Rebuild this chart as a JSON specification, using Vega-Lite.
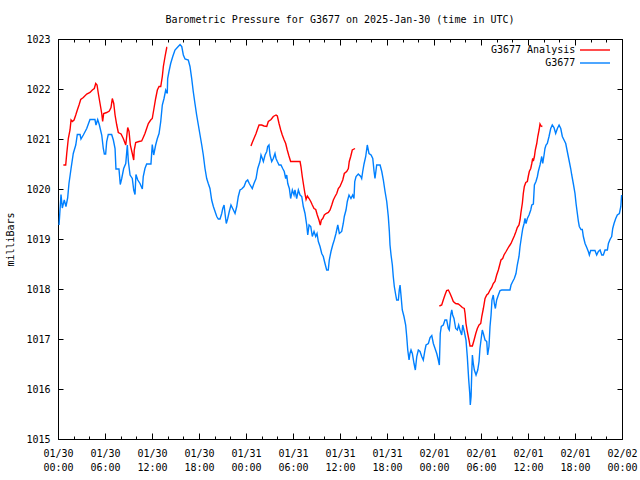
{
  "$schema": "https://vega.github.io/schema/vega-lite/v6.json",
  "width": 564,
  "height": 400,
  "autosize": "none",
  "padding": {"left": 58, "top": 39, "right": 18, "bottom": 41},
  "background": "white",
  "title": {"text": "Barometric Pressure for G3677 on 2025-Jan-30 (time in UTC)", "font": "DejaVu Sans Mono", "fontSize": 10, "fontWeight": "normal", "color": "black", "anchor": "middle", "offset": 9},
  "config": {
    "view": {"stroke": "black", "strokeWidth": 1},
    "axis": {"labelFont": "DejaVu Sans Mono", "labelFontSize": 10, "labelColor": "black", "titleFont": "DejaVu Sans Mono", "titleFontSize": 10, "titleFontWeight": "normal", "titleColor": "black", "tickColor": "black", "grid": false, "domain": false}
  },
  "data": {
    "format": {"parse": {"t": "utc:'%Y-%m-%d %H:%M'"}},
    "values": [
      {"s":"G3677","g":0,"t":"2025-01-30 00:08","p":1019.28},
      {"s":"G3677","g":0,"t":"2025-01-30 00:23","p":1019.89},
      {"s":"G3677","g":0,"t":"2025-01-30 00:33","p":1019.62},
      {"s":"G3677","g":0,"t":"2025-01-30 00:48","p":1019.78},
      {"s":"G3677","g":0,"t":"2025-01-30 01:01","p":1019.65},
      {"s":"G3677","g":0,"t":"2025-01-30 01:14","p":1019.82},
      {"s":"G3677","g":0,"t":"2025-01-30 01:24","p":1020.11},
      {"s":"G3677","g":0,"t":"2025-01-30 01:40","p":1020.41},
      {"s":"G3677","g":0,"t":"2025-01-30 01:57","p":1020.71},
      {"s":"G3677","g":0,"t":"2025-01-30 02:16","p":1020.88},
      {"s":"G3677","g":0,"t":"2025-01-30 02:28","p":1021.09},
      {"s":"G3677","g":0,"t":"2025-01-30 02:49","p":1021.09},
      {"s":"G3677","g":0,"t":"2025-01-30 02:56","p":1021.00},
      {"s":"G3677","g":0,"t":"2025-01-30 03:14","p":1021.08},
      {"s":"G3677","g":0,"t":"2025-01-30 03:40","p":1021.21},
      {"s":"G3677","g":0,"t":"2025-01-30 04:05","p":1021.39},
      {"s":"G3677","g":0,"t":"2025-01-30 04:43","p":1021.39},
      {"s":"G3677","g":0,"t":"2025-01-30 04:51","p":1021.28},
      {"s":"G3677","g":0,"t":"2025-01-30 05:04","p":1021.39},
      {"s":"G3677","g":0,"t":"2025-01-30 05:16","p":1021.29},
      {"s":"G3677","g":0,"t":"2025-01-30 05:35","p":1021.08},
      {"s":"G3677","g":0,"t":"2025-01-30 05:47","p":1020.81},
      {"s":"G3677","g":0,"t":"2025-01-30 05:55","p":1020.70},
      {"s":"G3677","g":0,"t":"2025-01-30 06:05","p":1020.70},
      {"s":"G3677","g":0,"t":"2025-01-30 06:13","p":1020.95},
      {"s":"G3677","g":0,"t":"2025-01-30 06:25","p":1021.09},
      {"s":"G3677","g":0,"t":"2025-01-30 06:51","p":1021.09},
      {"s":"G3677","g":0,"t":"2025-01-30 07:04","p":1020.98},
      {"s":"G3677","g":0,"t":"2025-01-30 07:17","p":1020.81},
      {"s":"G3677","g":0,"t":"2025-01-30 07:24","p":1020.40},
      {"s":"G3677","g":0,"t":"2025-01-30 07:47","p":1020.40},
      {"s":"G3677","g":0,"t":"2025-01-30 07:57","p":1020.09},
      {"s":"G3677","g":0,"t":"2025-01-30 08:08","p":1020.21},
      {"s":"G3677","g":0,"t":"2025-01-30 08:23","p":1020.41},
      {"s":"G3677","g":0,"t":"2025-01-30 08:39","p":1020.51},
      {"s":"G3677","g":0,"t":"2025-01-30 08:51","p":1020.88},
      {"s":"G3677","g":0,"t":"2025-01-30 08:59","p":1020.55},
      {"s":"G3677","g":0,"t":"2025-01-30 09:12","p":1020.28},
      {"s":"G3677","g":0,"t":"2025-01-30 09:29","p":1020.21},
      {"s":"G3677","g":0,"t":"2025-01-30 09:40","p":1019.98},
      {"s":"G3677","g":0,"t":"2025-01-30 09:50","p":1019.89},
      {"s":"G3677","g":0,"t":"2025-01-30 09:57","p":1020.29},
      {"s":"G3677","g":0,"t":"2025-01-30 10:11","p":1020.18},
      {"s":"G3677","g":0,"t":"2025-01-30 10:28","p":1020.11},
      {"s":"G3677","g":0,"t":"2025-01-30 10:46","p":1020.00},
      {"s":"G3677","g":0,"t":"2025-01-30 10:53","p":1020.25},
      {"s":"G3677","g":0,"t":"2025-01-30 11:06","p":1020.41},
      {"s":"G3677","g":0,"t":"2025-01-30 11:19","p":1020.50},
      {"s":"G3677","g":0,"t":"2025-01-30 11:52","p":1020.50},
      {"s":"G3677","g":0,"t":"2025-01-30 12:02","p":1020.89},
      {"s":"G3677","g":0,"t":"2025-01-30 12:13","p":1020.68},
      {"s":"G3677","g":0,"t":"2025-01-30 12:28","p":1020.88},
      {"s":"G3677","g":0,"t":"2025-01-30 12:41","p":1021.01},
      {"s":"G3677","g":0,"t":"2025-01-30 12:54","p":1021.11},
      {"s":"G3677","g":0,"t":"2025-01-30 13:07","p":1021.35},
      {"s":"G3677","g":0,"t":"2025-01-30 13:19","p":1021.68},
      {"s":"G3677","g":0,"t":"2025-01-30 13:32","p":1021.81},
      {"s":"G3677","g":0,"t":"2025-01-30 13:45","p":1021.98},
      {"s":"G3677","g":0,"t":"2025-01-30 13:57","p":1021.91},
      {"s":"G3677","g":0,"t":"2025-01-30 14:00","p":1022.21},
      {"s":"G3677","g":0,"t":"2025-01-30 14:10","p":1022.35},
      {"s":"G3677","g":0,"t":"2025-01-30 14:23","p":1022.51},
      {"s":"G3677","g":0,"t":"2025-01-30 14:39","p":1022.65},
      {"s":"G3677","g":0,"t":"2025-01-30 14:56","p":1022.78},
      {"s":"G3677","g":0,"t":"2025-01-30 15:14","p":1022.83},
      {"s":"G3677","g":0,"t":"2025-01-30 15:35","p":1022.89},
      {"s":"G3677","g":0,"t":"2025-01-30 15:48","p":1022.85},
      {"s":"G3677","g":0,"t":"2025-01-30 16:00","p":1022.68},
      {"s":"G3677","g":0,"t":"2025-01-30 16:13","p":1022.60},
      {"s":"G3677","g":0,"t":"2025-01-30 16:38","p":1022.58},
      {"s":"G3677","g":0,"t":"2025-01-30 16:51","p":1022.45},
      {"s":"G3677","g":0,"t":"2025-01-30 17:04","p":1022.21},
      {"s":"G3677","g":0,"t":"2025-01-30 17:16","p":1021.95},
      {"s":"G3677","g":0,"t":"2025-01-30 17:29","p":1021.71},
      {"s":"G3677","g":0,"t":"2025-01-30 17:42","p":1021.48},
      {"s":"G3677","g":0,"t":"2025-01-30 17:55","p":1021.28},
      {"s":"G3677","g":0,"t":"2025-01-30 18:08","p":1021.08},
      {"s":"G3677","g":0,"t":"2025-01-30 18:21","p":1020.88},
      {"s":"G3677","g":0,"t":"2025-01-30 18:33","p":1020.68},
      {"s":"G3677","g":0,"t":"2025-01-30 18:46","p":1020.41},
      {"s":"G3677","g":0,"t":"2025-01-30 18:59","p":1020.21},
      {"s":"G3677","g":0,"t":"2025-01-30 19:11","p":1020.11},
      {"s":"G3677","g":0,"t":"2025-01-30 19:24","p":1020.01},
      {"s":"G3677","g":0,"t":"2025-01-30 19:37","p":1019.78},
      {"s":"G3677","g":0,"t":"2025-01-30 19:50","p":1019.65},
      {"s":"G3677","g":0,"t":"2025-01-30 20:03","p":1019.55},
      {"s":"G3677","g":0,"t":"2025-01-30 20:16","p":1019.45},
      {"s":"G3677","g":0,"t":"2025-01-30 20:28","p":1019.40},
      {"s":"G3677","g":0,"t":"2025-01-30 20:41","p":1019.40},
      {"s":"G3677","g":0,"t":"2025-01-30 20:54","p":1019.51},
      {"s":"G3677","g":0,"t":"2025-01-30 21:02","p":1019.61},
      {"s":"G3677","g":0,"t":"2025-01-30 21:12","p":1019.68},
      {"s":"G3677","g":0,"t":"2025-01-30 21:22","p":1019.45},
      {"s":"G3677","g":0,"t":"2025-01-30 21:29","p":1019.31},
      {"s":"G3677","g":0,"t":"2025-01-30 21:40","p":1019.41},
      {"s":"G3677","g":0,"t":"2025-01-30 21:52","p":1019.55},
      {"s":"G3677","g":0,"t":"2025-01-30 22:05","p":1019.68},
      {"s":"G3677","g":0,"t":"2025-01-30 22:18","p":1019.61},
      {"s":"G3677","g":0,"t":"2025-01-30 22:36","p":1019.51},
      {"s":"G3677","g":0,"t":"2025-01-30 22:49","p":1019.65},
      {"s":"G3677","g":0,"t":"2025-01-30 23:01","p":1019.85},
      {"s":"G3677","g":0,"t":"2025-01-30 23:14","p":1019.98},
      {"s":"G3677","g":0,"t":"2025-01-30 23:27","p":1020.00},
      {"s":"G3677","g":0,"t":"2025-01-30 23:45","p":1020.05},
      {"s":"G3677","g":0,"t":"2025-01-31 00:00","p":1020.15},
      {"s":"G3677","g":0,"t":"2025-01-31 00:13","p":1020.18},
      {"s":"G3677","g":0,"t":"2025-01-31 00:25","p":1020.11},
      {"s":"G3677","g":0,"t":"2025-01-31 00:48","p":1020.01},
      {"s":"G3677","g":0,"t":"2025-01-31 01:01","p":1020.11},
      {"s":"G3677","g":0,"t":"2025-01-31 01:17","p":1020.21},
      {"s":"G3677","g":0,"t":"2025-01-31 01:30","p":1020.41},
      {"s":"G3677","g":0,"t":"2025-01-31 01:47","p":1020.55},
      {"s":"G3677","g":0,"t":"2025-01-31 01:55","p":1020.68},
      {"s":"G3677","g":0,"t":"2025-01-31 02:05","p":1020.61},
      {"s":"G3677","g":0,"t":"2025-01-31 02:13","p":1020.55},
      {"s":"G3677","g":0,"t":"2025-01-31 02:26","p":1020.68},
      {"s":"G3677","g":0,"t":"2025-01-31 02:39","p":1020.75},
      {"s":"G3677","g":0,"t":"2025-01-31 02:46","p":1020.85},
      {"s":"G3677","g":0,"t":"2025-01-31 02:56","p":1020.88},
      {"s":"G3677","g":0,"t":"2025-01-31 03:04","p":1020.68},
      {"s":"G3677","g":0,"t":"2025-01-31 03:17","p":1020.55},
      {"s":"G3677","g":0,"t":"2025-01-31 03:29","p":1020.61},
      {"s":"G3677","g":0,"t":"2025-01-31 03:42","p":1020.71},
      {"s":"G3677","g":0,"t":"2025-01-31 03:50","p":1020.61},
      {"s":"G3677","g":0,"t":"2025-01-31 04:00","p":1020.55},
      {"s":"G3677","g":0,"t":"2025-01-31 04:13","p":1020.48},
      {"s":"G3677","g":0,"t":"2025-01-31 04:28","p":1020.48},
      {"s":"G3677","g":0,"t":"2025-01-31 04:41","p":1020.41},
      {"s":"G3677","g":0,"t":"2025-01-31 04:53","p":1020.35},
      {"s":"G3677","g":0,"t":"2025-01-31 05:04","p":1020.21},
      {"s":"G3677","g":0,"t":"2025-01-31 05:12","p":1020.28},
      {"s":"G3677","g":0,"t":"2025-01-31 05:20","p":1020.11},
      {"s":"G3677","g":0,"t":"2025-01-31 05:32","p":1020.01},
      {"s":"G3677","g":0,"t":"2025-01-31 05:42","p":1019.81},
      {"s":"G3677","g":0,"t":"2025-01-31 05:55","p":1019.98},
      {"s":"G3677","g":0,"t":"2025-01-31 06:08","p":1019.88},
      {"s":"G3677","g":0,"t":"2025-01-31 06:15","p":1019.98},
      {"s":"G3677","g":0,"t":"2025-01-31 06:28","p":1019.81},
      {"s":"G3677","g":0,"t":"2025-01-31 06:41","p":1019.98},
      {"s":"G3677","g":0,"t":"2025-01-31 06:54","p":1019.88},
      {"s":"G3677","g":0,"t":"2025-01-31 07:07","p":1019.85},
      {"s":"G3677","g":0,"t":"2025-01-31 07:19","p":1019.65},
      {"s":"G3677","g":0,"t":"2025-01-31 07:32","p":1019.51},
      {"s":"G3677","g":0,"t":"2025-01-31 07:45","p":1019.28},
      {"s":"G3677","g":0,"t":"2025-01-31 07:53","p":1019.08},
      {"s":"G3677","g":0,"t":"2025-01-31 08:03","p":1019.28},
      {"s":"G3677","g":0,"t":"2025-01-31 08:16","p":1019.25},
      {"s":"G3677","g":0,"t":"2025-01-31 08:28","p":1019.05},
      {"s":"G3677","g":0,"t":"2025-01-31 08:41","p":1019.15},
      {"s":"G3677","g":0,"t":"2025-01-31 08:54","p":1019.05},
      {"s":"G3677","g":0,"t":"2025-01-31 09:04","p":1019.11},
      {"s":"G3677","g":0,"t":"2025-01-31 09:14","p":1018.95},
      {"s":"G3677","g":0,"t":"2025-01-31 09:27","p":1018.85},
      {"s":"G3677","g":0,"t":"2025-01-31 09:40","p":1018.71},
      {"s":"G3677","g":0,"t":"2025-01-31 09:52","p":1018.65},
      {"s":"G3677","g":0,"t":"2025-01-31 10:05","p":1018.51},
      {"s":"G3677","g":0,"t":"2025-01-31 10:18","p":1018.38},
      {"s":"G3677","g":0,"t":"2025-01-31 10:30","p":1018.38},
      {"s":"G3677","g":0,"t":"2025-01-31 10:38","p":1018.58},
      {"s":"G3677","g":0,"t":"2025-01-31 10:51","p":1018.75},
      {"s":"G3677","g":0,"t":"2025-01-31 11:04","p":1018.88},
      {"s":"G3677","g":0,"t":"2025-01-31 11:16","p":1018.98},
      {"s":"G3677","g":0,"t":"2025-01-31 11:29","p":1019.11},
      {"s":"G3677","g":0,"t":"2025-01-31 11:43","p":1019.28},
      {"s":"G3677","g":0,"t":"2025-01-31 11:55","p":1019.11},
      {"s":"G3677","g":0,"t":"2025-01-31 12:13","p":1019.15},
      {"s":"G3677","g":0,"t":"2025-01-31 12:25","p":1019.31},
      {"s":"G3677","g":0,"t":"2025-01-31 12:33","p":1019.45},
      {"s":"G3677","g":0,"t":"2025-01-31 12:46","p":1019.58},
      {"s":"G3677","g":0,"t":"2025-01-31 12:56","p":1019.75},
      {"s":"G3677","g":0,"t":"2025-01-31 13:09","p":1019.88},
      {"s":"G3677","g":0,"t":"2025-01-31 13:24","p":1019.81},
      {"s":"G3677","g":0,"t":"2025-01-31 13:37","p":1019.88},
      {"s":"G3677","g":0,"t":"2025-01-31 13:47","p":1019.81},
      {"s":"G3677","g":0,"t":"2025-01-31 13:53","p":1020.15},
      {"s":"G3677","g":0,"t":"2025-01-31 14:03","p":1020.25},
      {"s":"G3677","g":0,"t":"2025-01-31 14:20","p":1020.30},
      {"s":"G3677","g":0,"t":"2025-01-31 14:39","p":1020.25},
      {"s":"G3677","g":0,"t":"2025-01-31 14:46","p":1020.21},
      {"s":"G3677","g":0,"t":"2025-01-31 14:54","p":1020.35},
      {"s":"G3677","g":0,"t":"2025-01-31 15:04","p":1020.50},
      {"s":"G3677","g":0,"t":"2025-01-31 15:17","p":1020.65},
      {"s":"G3677","g":0,"t":"2025-01-31 15:29","p":1020.88},
      {"s":"G3677","g":0,"t":"2025-01-31 15:42","p":1020.71},
      {"s":"G3677","g":0,"t":"2025-01-31 15:58","p":1020.68},
      {"s":"G3677","g":0,"t":"2025-01-31 16:11","p":1020.61},
      {"s":"G3677","g":0,"t":"2025-01-31 16:21","p":1020.35},
      {"s":"G3677","g":0,"t":"2025-01-31 16:28","p":1020.21},
      {"s":"G3677","g":0,"t":"2025-01-31 16:41","p":1020.48},
      {"s":"G3677","g":0,"t":"2025-01-31 17:07","p":1020.48},
      {"s":"G3677","g":0,"t":"2025-01-31 17:20","p":1020.35},
      {"s":"G3677","g":0,"t":"2025-01-31 17:32","p":1020.18},
      {"s":"G3677","g":0,"t":"2025-01-31 17:45","p":1019.95},
      {"s":"G3677","g":0,"t":"2025-01-31 17:58","p":1019.75},
      {"s":"G3677","g":0,"t":"2025-01-31 18:10","p":1019.45},
      {"s":"G3677","g":0,"t":"2025-01-31 18:18","p":1019.15},
      {"s":"G3677","g":0,"t":"2025-01-31 18:23","p":1018.88},
      {"s":"G3677","g":0,"t":"2025-01-31 18:31","p":1018.68},
      {"s":"G3677","g":0,"t":"2025-01-31 18:41","p":1018.48},
      {"s":"G3677","g":0,"t":"2025-01-31 18:48","p":1018.25},
      {"s":"G3677","g":0,"t":"2025-01-31 18:56","p":1018.05},
      {"s":"G3677","g":0,"t":"2025-01-31 19:07","p":1017.88},
      {"s":"G3677","g":0,"t":"2025-01-31 19:14","p":1017.78},
      {"s":"G3677","g":0,"t":"2025-01-31 19:27","p":1017.78},
      {"s":"G3677","g":0,"t":"2025-01-31 19:34","p":1017.98},
      {"s":"G3677","g":0,"t":"2025-01-31 19:40","p":1018.08},
      {"s":"G3677","g":0,"t":"2025-01-31 19:47","p":1017.88},
      {"s":"G3677","g":0,"t":"2025-01-31 19:57","p":1017.58},
      {"s":"G3677","g":0,"t":"2025-01-31 20:10","p":1017.45},
      {"s":"G3677","g":0,"t":"2025-01-31 20:23","p":1017.28},
      {"s":"G3677","g":0,"t":"2025-01-31 20:31","p":1017.05},
      {"s":"G3677","g":0,"t":"2025-01-31 20:39","p":1016.78},
      {"s":"G3677","g":0,"t":"2025-01-31 20:49","p":1016.58},
      {"s":"G3677","g":0,"t":"2025-01-31 20:56","p":1016.71},
      {"s":"G3677","g":0,"t":"2025-01-31 21:04","p":1016.78},
      {"s":"G3677","g":0,"t":"2025-01-31 21:14","p":1016.71},
      {"s":"G3677","g":0,"t":"2025-01-31 21:27","p":1016.51},
      {"s":"G3677","g":0,"t":"2025-01-31 21:37","p":1016.38},
      {"s":"G3677","g":0,"t":"2025-01-31 21:48","p":1016.65},
      {"s":"G3677","g":0,"t":"2025-01-31 22:00","p":1016.78},
      {"s":"G3677","g":0,"t":"2025-01-31 22:13","p":1016.75},
      {"s":"G3677","g":0,"t":"2025-01-31 22:26","p":1016.65},
      {"s":"G3677","g":0,"t":"2025-01-31 22:38","p":1016.58},
      {"s":"G3677","g":0,"t":"2025-01-31 22:51","p":1016.78},
      {"s":"G3677","g":0,"t":"2025-01-31 22:59","p":1016.88},
      {"s":"G3677","g":0,"t":"2025-01-31 23:17","p":1016.91},
      {"s":"G3677","g":0,"t":"2025-01-31 23:30","p":1017.03},
      {"s":"G3677","g":0,"t":"2025-01-31 23:43","p":1017.07},
      {"s":"G3677","g":0,"t":"2025-01-31 23:55","p":1016.91},
      {"s":"G3677","g":0,"t":"2025-02-01 00:08","p":1016.81},
      {"s":"G3677","g":0,"t":"2025-02-01 00:21","p":1016.71},
      {"s":"G3677","g":0,"t":"2025-02-01 00:33","p":1016.58},
      {"s":"G3677","g":0,"t":"2025-02-01 00:41","p":1016.48},
      {"s":"G3677","g":0,"t":"2025-02-01 00:48","p":1017.11},
      {"s":"G3677","g":0,"t":"2025-02-01 00:56","p":1017.25},
      {"s":"G3677","g":0,"t":"2025-02-01 01:11","p":1017.28},
      {"s":"G3677","g":0,"t":"2025-02-01 01:24","p":1017.38},
      {"s":"G3677","g":0,"t":"2025-02-01 01:37","p":1017.38},
      {"s":"G3677","g":0,"t":"2025-02-01 01:50","p":1017.21},
      {"s":"G3677","g":0,"t":"2025-02-01 01:57","p":1017.18},
      {"s":"G3677","g":0,"t":"2025-02-01 02:08","p":1017.48},
      {"s":"G3677","g":0,"t":"2025-02-01 02:16","p":1017.58},
      {"s":"G3677","g":0,"t":"2025-02-01 02:23","p":1017.48},
      {"s":"G3677","g":0,"t":"2025-02-01 02:33","p":1017.41},
      {"s":"G3677","g":0,"t":"2025-02-01 02:46","p":1017.21},
      {"s":"G3677","g":0,"t":"2025-02-01 02:59","p":1017.18},
      {"s":"G3677","g":0,"t":"2025-02-01 03:09","p":1017.28},
      {"s":"G3677","g":0,"t":"2025-02-01 03:19","p":1017.18},
      {"s":"G3677","g":0,"t":"2025-02-01 03:32","p":1017.08},
      {"s":"G3677","g":0,"t":"2025-02-01 03:40","p":1017.28},
      {"s":"G3677","g":0,"t":"2025-02-01 03:52","p":1017.15},
      {"s":"G3677","g":0,"t":"2025-02-01 04:05","p":1016.98},
      {"s":"G3677","g":0,"t":"2025-02-01 04:15","p":1016.65},
      {"s":"G3677","g":0,"t":"2025-02-01 04:26","p":1016.18},
      {"s":"G3677","g":0,"t":"2025-02-01 04:34","p":1015.91},
      {"s":"G3677","g":0,"t":"2025-02-01 04:38","p":1015.68},
      {"s":"G3677","g":0,"t":"2025-02-01 04:44","p":1015.85},
      {"s":"G3677","g":0,"t":"2025-02-01 04:49","p":1016.31},
      {"s":"G3677","g":0,"t":"2025-02-01 04:54","p":1016.68},
      {"s":"G3677","g":0,"t":"2025-02-01 05:01","p":1016.51},
      {"s":"G3677","g":0,"t":"2025-02-01 05:09","p":1016.38},
      {"s":"G3677","g":0,"t":"2025-02-01 05:22","p":1016.28},
      {"s":"G3677","g":0,"t":"2025-02-01 05:35","p":1016.38},
      {"s":"G3677","g":0,"t":"2025-02-01 05:45","p":1016.55},
      {"s":"G3677","g":0,"t":"2025-02-01 05:52","p":1016.81},
      {"s":"G3677","g":0,"t":"2025-02-01 06:00","p":1016.98},
      {"s":"G3677","g":0,"t":"2025-02-01 06:10","p":1017.18},
      {"s":"G3677","g":0,"t":"2025-02-01 06:18","p":1017.11},
      {"s":"G3677","g":0,"t":"2025-02-01 06:31","p":1016.98},
      {"s":"G3677","g":0,"t":"2025-02-01 06:44","p":1016.95},
      {"s":"G3677","g":0,"t":"2025-02-01 06:51","p":1016.68},
      {"s":"G3677","g":0,"t":"2025-02-01 07:01","p":1016.85},
      {"s":"G3677","g":0,"t":"2025-02-01 07:09","p":1017.25},
      {"s":"G3677","g":0,"t":"2025-02-01 07:17","p":1017.48},
      {"s":"G3677","g":0,"t":"2025-02-01 07:24","p":1017.78},
      {"s":"G3677","g":0,"t":"2025-02-01 07:34","p":1017.88},
      {"s":"G3677","g":0,"t":"2025-02-01 07:42","p":1017.71},
      {"s":"G3677","g":0,"t":"2025-02-01 07:50","p":1017.61},
      {"s":"G3677","g":0,"t":"2025-02-01 08:00","p":1017.78},
      {"s":"G3677","g":0,"t":"2025-02-01 08:13","p":1017.88},
      {"s":"G3677","g":0,"t":"2025-02-01 08:26","p":1017.97},
      {"s":"G3677","g":0,"t":"2025-02-01 08:39","p":1017.98},
      {"s":"G3677","g":0,"t":"2025-02-01 09:42","p":1017.98},
      {"s":"G3677","g":0,"t":"2025-02-01 09:50","p":1018.08},
      {"s":"G3677","g":0,"t":"2025-02-01 10:03","p":1018.15},
      {"s":"G3677","g":0,"t":"2025-02-01 10:15","p":1018.21},
      {"s":"G3677","g":0,"t":"2025-02-01 10:28","p":1018.31},
      {"s":"G3677","g":0,"t":"2025-02-01 10:38","p":1018.48},
      {"s":"G3677","g":0,"t":"2025-02-01 10:51","p":1018.65},
      {"s":"G3677","g":0,"t":"2025-02-01 10:59","p":1018.85},
      {"s":"G3677","g":0,"t":"2025-02-01 11:12","p":1019.08},
      {"s":"G3677","g":0,"t":"2025-02-01 11:20","p":1019.21},
      {"s":"G3677","g":0,"t":"2025-02-01 11:30","p":1019.31},
      {"s":"G3677","g":0,"t":"2025-02-01 11:37","p":1019.41},
      {"s":"G3677","g":0,"t":"2025-02-01 11:45","p":1019.31},
      {"s":"G3677","g":0,"t":"2025-02-01 11:55","p":1019.41},
      {"s":"G3677","g":0,"t":"2025-02-01 12:08","p":1019.48},
      {"s":"G3677","g":0,"t":"2025-02-01 12:21","p":1019.58},
      {"s":"G3677","g":0,"t":"2025-02-01 12:29","p":1019.68},
      {"s":"G3677","g":0,"t":"2025-02-01 12:41","p":1019.70},
      {"s":"G3677","g":0,"t":"2025-02-01 12:49","p":1020.08},
      {"s":"G3677","g":0,"t":"2025-02-01 13:01","p":1020.15},
      {"s":"G3677","g":0,"t":"2025-02-01 13:12","p":1020.25},
      {"s":"G3677","g":0,"t":"2025-02-01 13:19","p":1020.35},
      {"s":"G3677","g":0,"t":"2025-02-01 13:32","p":1020.48},
      {"s":"G3677","g":0,"t":"2025-02-01 13:40","p":1020.58},
      {"s":"G3677","g":0,"t":"2025-02-01 13:45","p":1020.65},
      {"s":"G3677","g":0,"t":"2025-02-01 13:53","p":1020.51},
      {"s":"G3677","g":0,"t":"2025-02-01 14:03","p":1020.68},
      {"s":"G3677","g":0,"t":"2025-02-01 14:10","p":1020.81},
      {"s":"G3677","g":0,"t":"2025-02-01 14:18","p":1020.88},
      {"s":"G3677","g":0,"t":"2025-02-01 14:28","p":1020.91},
      {"s":"G3677","g":0,"t":"2025-02-01 14:41","p":1021.05},
      {"s":"G3677","g":0,"t":"2025-02-01 14:54","p":1021.21},
      {"s":"G3677","g":0,"t":"2025-02-01 15:06","p":1021.28},
      {"s":"G3677","g":0,"t":"2025-02-01 15:19","p":1021.23},
      {"s":"G3677","g":0,"t":"2025-02-01 15:32","p":1021.11},
      {"s":"G3677","g":0,"t":"2025-02-01 15:45","p":1021.21},
      {"s":"G3677","g":0,"t":"2025-02-01 15:58","p":1021.28},
      {"s":"G3677","g":0,"t":"2025-02-01 16:11","p":1021.21},
      {"s":"G3677","g":0,"t":"2025-02-01 16:23","p":1021.05},
      {"s":"G3677","g":0,"t":"2025-02-01 16:36","p":1020.98},
      {"s":"G3677","g":0,"t":"2025-02-01 16:49","p":1020.91},
      {"s":"G3677","g":0,"t":"2025-02-01 17:01","p":1020.75},
      {"s":"G3677","g":0,"t":"2025-02-01 17:14","p":1020.58},
      {"s":"G3677","g":0,"t":"2025-02-01 17:27","p":1020.41},
      {"s":"G3677","g":0,"t":"2025-02-01 17:35","p":1020.28},
      {"s":"G3677","g":0,"t":"2025-02-01 17:47","p":1020.11},
      {"s":"G3677","g":0,"t":"2025-02-01 18:00","p":1019.91},
      {"s":"G3677","g":0,"t":"2025-02-01 18:08","p":1019.71},
      {"s":"G3677","g":0,"t":"2025-02-01 18:18","p":1019.51},
      {"s":"G3677","g":0,"t":"2025-02-01 18:26","p":1019.35},
      {"s":"G3677","g":0,"t":"2025-02-01 18:33","p":1019.25},
      {"s":"G3677","g":0,"t":"2025-02-01 18:46","p":1019.19},
      {"s":"G3677","g":0,"t":"2025-02-01 18:56","p":1019.19},
      {"s":"G3677","g":0,"t":"2025-02-01 19:04","p":1019.05},
      {"s":"G3677","g":0,"t":"2025-02-01 19:17","p":1018.91},
      {"s":"G3677","g":0,"t":"2025-02-01 19:30","p":1018.83},
      {"s":"G3677","g":0,"t":"2025-02-01 19:42","p":1018.75},
      {"s":"G3677","g":0,"t":"2025-02-01 19:50","p":1018.68},
      {"s":"G3677","g":0,"t":"2025-02-01 20:00","p":1018.77},
      {"s":"G3677","g":0,"t":"2025-02-01 20:33","p":1018.77},
      {"s":"G3677","g":0,"t":"2025-02-01 20:46","p":1018.68},
      {"s":"G3677","g":0,"t":"2025-02-01 20:59","p":1018.75},
      {"s":"G3677","g":0,"t":"2025-02-01 21:12","p":1018.78},
      {"s":"G3677","g":0,"t":"2025-02-01 21:25","p":1018.68},
      {"s":"G3677","g":0,"t":"2025-02-01 21:37","p":1018.68},
      {"s":"G3677","g":0,"t":"2025-02-01 21:50","p":1018.78},
      {"s":"G3677","g":0,"t":"2025-02-01 22:08","p":1018.78},
      {"s":"G3677","g":0,"t":"2025-02-01 22:16","p":1018.91},
      {"s":"G3677","g":0,"t":"2025-02-01 22:28","p":1018.99},
      {"s":"G3677","g":0,"t":"2025-02-01 22:41","p":1019.05},
      {"s":"G3677","g":0,"t":"2025-02-01 22:49","p":1019.21},
      {"s":"G3677","g":0,"t":"2025-02-01 22:59","p":1019.31},
      {"s":"G3677","g":0,"t":"2025-02-01 23:12","p":1019.41},
      {"s":"G3677","g":0,"t":"2025-02-01 23:24","p":1019.48},
      {"s":"G3677","g":0,"t":"2025-02-01 23:40","p":1019.51},
      {"s":"G3677","g":0,"t":"2025-02-01 23:51","p":1019.65},
      {"s":"G3677","g":0,"t":"2025-02-01 23:57","p":1019.88},
      {"s":"G3677 Analysis","g":1,"t":"2025-01-30 00:41","p":1020.48},
      {"s":"G3677 Analysis","g":1,"t":"2025-01-30 00:59","p":1020.48},
      {"s":"G3677 Analysis","g":1,"t":"2025-01-30 01:07","p":1020.71},
      {"s":"G3677 Analysis","g":1,"t":"2025-01-30 01:19","p":1021.01},
      {"s":"G3677 Analysis","g":1,"t":"2025-01-30 01:32","p":1021.18},
      {"s":"G3677 Analysis","g":1,"t":"2025-01-30 01:40","p":1021.38},
      {"s":"G3677 Analysis","g":1,"t":"2025-01-30 01:50","p":1021.35},
      {"s":"G3677 Analysis","g":1,"t":"2025-01-30 02:03","p":1021.38},
      {"s":"G3677 Analysis","g":1,"t":"2025-01-30 02:16","p":1021.48},
      {"s":"G3677 Analysis","g":1,"t":"2025-01-30 02:28","p":1021.58},
      {"s":"G3677 Analysis","g":1,"t":"2025-01-30 02:41","p":1021.68},
      {"s":"G3677 Analysis","g":1,"t":"2025-01-30 02:54","p":1021.79},
      {"s":"G3677 Analysis","g":1,"t":"2025-01-30 03:14","p":1021.83},
      {"s":"G3677 Analysis","g":1,"t":"2025-01-30 03:40","p":1021.90},
      {"s":"G3677 Analysis","g":1,"t":"2025-01-30 04:05","p":1021.93},
      {"s":"G3677 Analysis","g":1,"t":"2025-01-30 04:23","p":1021.98},
      {"s":"G3677 Analysis","g":1,"t":"2025-01-30 04:38","p":1022.01},
      {"s":"G3677 Analysis","g":1,"t":"2025-01-30 04:49","p":1022.11},
      {"s":"G3677 Analysis","g":1,"t":"2025-01-30 04:59","p":1022.08},
      {"s":"G3677 Analysis","g":1,"t":"2025-01-30 05:09","p":1021.91},
      {"s":"G3677 Analysis","g":1,"t":"2025-01-30 05:22","p":1021.71},
      {"s":"G3677 Analysis","g":1,"t":"2025-01-30 05:35","p":1021.51},
      {"s":"G3677 Analysis","g":1,"t":"2025-01-30 05:42","p":1021.35},
      {"s":"G3677 Analysis","g":1,"t":"2025-01-30 05:50","p":1021.51},
      {"s":"G3677 Analysis","g":1,"t":"2025-01-30 06:13","p":1021.53},
      {"s":"G3677 Analysis","g":1,"t":"2025-01-30 06:33","p":1021.56},
      {"s":"G3677 Analysis","g":1,"t":"2025-01-30 06:46","p":1021.63},
      {"s":"G3677 Analysis","g":1,"t":"2025-01-30 06:56","p":1021.81},
      {"s":"G3677 Analysis","g":1,"t":"2025-01-30 07:07","p":1021.71},
      {"s":"G3677 Analysis","g":1,"t":"2025-01-30 07:17","p":1021.48},
      {"s":"G3677 Analysis","g":1,"t":"2025-01-30 07:30","p":1021.28},
      {"s":"G3677 Analysis","g":1,"t":"2025-01-30 07:42","p":1021.13},
      {"s":"G3677 Analysis","g":1,"t":"2025-01-30 08:03","p":1021.10},
      {"s":"G3677 Analysis","g":1,"t":"2025-01-30 08:20","p":1021.01},
      {"s":"G3677 Analysis","g":1,"t":"2025-01-30 08:39","p":1020.88},
      {"s":"G3677 Analysis","g":1,"t":"2025-01-30 08:54","p":1021.23},
      {"s":"G3677 Analysis","g":1,"t":"2025-01-30 09:04","p":1021.15},
      {"s":"G3677 Analysis","g":1,"t":"2025-01-30 09:14","p":1020.88},
      {"s":"G3677 Analysis","g":1,"t":"2025-01-30 09:29","p":1020.71},
      {"s":"G3677 Analysis","g":1,"t":"2025-01-30 09:40","p":1020.58},
      {"s":"G3677 Analysis","g":1,"t":"2025-01-30 09:44","p":1020.78},
      {"s":"G3677 Analysis","g":1,"t":"2025-01-30 09:55","p":1020.93},
      {"s":"G3677 Analysis","g":1,"t":"2025-01-30 10:20","p":1020.95},
      {"s":"G3677 Analysis","g":1,"t":"2025-01-30 10:41","p":1020.96},
      {"s":"G3677 Analysis","g":1,"t":"2025-01-30 10:53","p":1021.03},
      {"s":"G3677 Analysis","g":1,"t":"2025-01-30 11:06","p":1021.11},
      {"s":"G3677 Analysis","g":1,"t":"2025-01-30 11:19","p":1021.21},
      {"s":"G3677 Analysis","g":1,"t":"2025-01-30 11:32","p":1021.31},
      {"s":"G3677 Analysis","g":1,"t":"2025-01-30 11:50","p":1021.38},
      {"s":"G3677 Analysis","g":1,"t":"2025-01-30 12:02","p":1021.41},
      {"s":"G3677 Analysis","g":1,"t":"2025-01-30 12:15","p":1021.61},
      {"s":"G3677 Analysis","g":1,"t":"2025-01-30 12:28","p":1021.81},
      {"s":"G3677 Analysis","g":1,"t":"2025-01-30 12:41","p":1021.98},
      {"s":"G3677 Analysis","g":1,"t":"2025-01-30 12:54","p":1022.05},
      {"s":"G3677 Analysis","g":1,"t":"2025-01-30 13:07","p":1022.05},
      {"s":"G3677 Analysis","g":1,"t":"2025-01-30 13:19","p":1022.25},
      {"s":"G3677 Analysis","g":1,"t":"2025-01-30 13:27","p":1022.45},
      {"s":"G3677 Analysis","g":1,"t":"2025-01-30 13:40","p":1022.65},
      {"s":"G3677 Analysis","g":1,"t":"2025-01-30 13:53","p":1022.83},
      {"s":"G3677 Analysis","g":1,"t":"2025-01-30 13:57","p":1022.83},
      {"s":"G3677 Analysis","g":2,"t":"2025-01-31 00:38","p":1020.86},
      {"s":"G3677 Analysis","g":2,"t":"2025-01-31 00:48","p":1020.93},
      {"s":"G3677 Analysis","g":2,"t":"2025-01-31 01:01","p":1021.01},
      {"s":"G3677 Analysis","g":2,"t":"2025-01-31 01:17","p":1021.11},
      {"s":"G3677 Analysis","g":2,"t":"2025-01-31 01:30","p":1021.21},
      {"s":"G3677 Analysis","g":2,"t":"2025-01-31 01:40","p":1021.28},
      {"s":"G3677 Analysis","g":2,"t":"2025-01-31 02:00","p":1021.28},
      {"s":"G3677 Analysis","g":2,"t":"2025-01-31 02:18","p":1021.26},
      {"s":"G3677 Analysis","g":2,"t":"2025-01-31 02:39","p":1021.25},
      {"s":"G3677 Analysis","g":2,"t":"2025-01-31 02:51","p":1021.35},
      {"s":"G3677 Analysis","g":2,"t":"2025-01-31 03:12","p":1021.39},
      {"s":"G3677 Analysis","g":2,"t":"2025-01-31 03:29","p":1021.45},
      {"s":"G3677 Analysis","g":2,"t":"2025-01-31 03:50","p":1021.48},
      {"s":"G3677 Analysis","g":2,"t":"2025-01-31 04:00","p":1021.46},
      {"s":"G3677 Analysis","g":2,"t":"2025-01-31 04:13","p":1021.31},
      {"s":"G3677 Analysis","g":2,"t":"2025-01-31 04:26","p":1021.18},
      {"s":"G3677 Analysis","g":2,"t":"2025-01-31 04:38","p":1021.08},
      {"s":"G3677 Analysis","g":2,"t":"2025-01-31 04:51","p":1020.99},
      {"s":"G3677 Analysis","g":2,"t":"2025-01-31 05:04","p":1020.91},
      {"s":"G3677 Analysis","g":2,"t":"2025-01-31 05:16","p":1020.78},
      {"s":"G3677 Analysis","g":2,"t":"2025-01-31 05:29","p":1020.66},
      {"s":"G3677 Analysis","g":2,"t":"2025-01-31 05:42","p":1020.55},
      {"s":"G3677 Analysis","g":2,"t":"2025-01-31 06:54","p":1020.55},
      {"s":"G3677 Analysis","g":2,"t":"2025-01-31 07:01","p":1020.45},
      {"s":"G3677 Analysis","g":2,"t":"2025-01-31 07:11","p":1020.25},
      {"s":"G3677 Analysis","g":2,"t":"2025-01-31 07:24","p":1020.03},
      {"s":"G3677 Analysis","g":2,"t":"2025-01-31 07:32","p":1019.90},
      {"s":"G3677 Analysis","g":2,"t":"2025-01-31 07:40","p":1019.79},
      {"s":"G3677 Analysis","g":2,"t":"2025-01-31 07:50","p":1019.86},
      {"s":"G3677 Analysis","g":2,"t":"2025-01-31 08:03","p":1019.81},
      {"s":"G3677 Analysis","g":2,"t":"2025-01-31 08:16","p":1019.75},
      {"s":"G3677 Analysis","g":2,"t":"2025-01-31 08:28","p":1019.68},
      {"s":"G3677 Analysis","g":2,"t":"2025-01-31 08:41","p":1019.61},
      {"s":"G3677 Analysis","g":2,"t":"2025-01-31 08:54","p":1019.59},
      {"s":"G3677 Analysis","g":2,"t":"2025-01-31 09:06","p":1019.48},
      {"s":"G3677 Analysis","g":2,"t":"2025-01-31 09:19","p":1019.38},
      {"s":"G3677 Analysis","g":2,"t":"2025-01-31 09:29","p":1019.28},
      {"s":"G3677 Analysis","g":2,"t":"2025-01-31 09:37","p":1019.38},
      {"s":"G3677 Analysis","g":2,"t":"2025-01-31 09:48","p":1019.41},
      {"s":"G3677 Analysis","g":2,"t":"2025-01-31 10:00","p":1019.48},
      {"s":"G3677 Analysis","g":2,"t":"2025-01-31 10:13","p":1019.51},
      {"s":"G3677 Analysis","g":2,"t":"2025-01-31 10:31","p":1019.53},
      {"s":"G3677 Analysis","g":2,"t":"2025-01-31 10:44","p":1019.58},
      {"s":"G3677 Analysis","g":2,"t":"2025-01-31 10:57","p":1019.68},
      {"s":"G3677 Analysis","g":2,"t":"2025-01-31 11:09","p":1019.78},
      {"s":"G3677 Analysis","g":2,"t":"2025-01-31 11:22","p":1019.85},
      {"s":"G3677 Analysis","g":2,"t":"2025-01-31 11:35","p":1019.91},
      {"s":"G3677 Analysis","g":2,"t":"2025-01-31 11:47","p":1020.01},
      {"s":"G3677 Analysis","g":2,"t":"2025-01-31 12:00","p":1020.05},
      {"s":"G3677 Analysis","g":2,"t":"2025-01-31 12:21","p":1020.18},
      {"s":"G3677 Analysis","g":2,"t":"2025-01-31 12:33","p":1020.31},
      {"s":"G3677 Analysis","g":2,"t":"2025-01-31 12:51","p":1020.35},
      {"s":"G3677 Analysis","g":2,"t":"2025-01-31 13:04","p":1020.41},
      {"s":"G3677 Analysis","g":2,"t":"2025-01-31 13:11","p":1020.55},
      {"s":"G3677 Analysis","g":2,"t":"2025-01-31 13:22","p":1020.65},
      {"s":"G3677 Analysis","g":2,"t":"2025-01-31 13:34","p":1020.78},
      {"s":"G3677 Analysis","g":2,"t":"2025-01-31 13:55","p":1020.81},
      {"s":"G3677 Analysis","g":3,"t":"2025-02-01 00:41","p":1017.66},
      {"s":"G3677 Analysis","g":3,"t":"2025-02-01 00:59","p":1017.68},
      {"s":"G3677 Analysis","g":3,"t":"2025-02-01 01:11","p":1017.78},
      {"s":"G3677 Analysis","g":3,"t":"2025-02-01 01:24","p":1017.88},
      {"s":"G3677 Analysis","g":3,"t":"2025-02-01 01:37","p":1017.97},
      {"s":"G3677 Analysis","g":3,"t":"2025-02-01 01:50","p":1017.98},
      {"s":"G3677 Analysis","g":3,"t":"2025-02-01 02:03","p":1017.91},
      {"s":"G3677 Analysis","g":3,"t":"2025-02-01 02:16","p":1017.83},
      {"s":"G3677 Analysis","g":3,"t":"2025-02-01 02:28","p":1017.75},
      {"s":"G3677 Analysis","g":3,"t":"2025-02-01 02:46","p":1017.71},
      {"s":"G3677 Analysis","g":3,"t":"2025-02-01 03:06","p":1017.70},
      {"s":"G3677 Analysis","g":3,"t":"2025-02-01 03:25","p":1017.66},
      {"s":"G3677 Analysis","g":3,"t":"2025-02-01 03:37","p":1017.63},
      {"s":"G3677 Analysis","g":3,"t":"2025-02-01 03:52","p":1017.61},
      {"s":"G3677 Analysis","g":3,"t":"2025-02-01 03:58","p":1017.51},
      {"s":"G3677 Analysis","g":3,"t":"2025-02-01 04:05","p":1017.31},
      {"s":"G3677 Analysis","g":3,"t":"2025-02-01 04:15","p":1017.15},
      {"s":"G3677 Analysis","g":3,"t":"2025-02-01 04:28","p":1016.98},
      {"s":"G3677 Analysis","g":3,"t":"2025-02-01 04:36","p":1016.86},
      {"s":"G3677 Analysis","g":3,"t":"2025-02-01 04:54","p":1016.86},
      {"s":"G3677 Analysis","g":3,"t":"2025-02-01 05:07","p":1016.98},
      {"s":"G3677 Analysis","g":3,"t":"2025-02-01 05:20","p":1017.11},
      {"s":"G3677 Analysis","g":3,"t":"2025-02-01 05:32","p":1017.21},
      {"s":"G3677 Analysis","g":3,"t":"2025-02-01 05:45","p":1017.28},
      {"s":"G3677 Analysis","g":3,"t":"2025-02-01 05:58","p":1017.31},
      {"s":"G3677 Analysis","g":3,"t":"2025-02-01 06:06","p":1017.45},
      {"s":"G3677 Analysis","g":3,"t":"2025-02-01 06:18","p":1017.61},
      {"s":"G3677 Analysis","g":3,"t":"2025-02-01 06:31","p":1017.81},
      {"s":"G3677 Analysis","g":3,"t":"2025-02-01 06:44","p":1017.88},
      {"s":"G3677 Analysis","g":3,"t":"2025-02-01 06:56","p":1017.91},
      {"s":"G3677 Analysis","g":3,"t":"2025-02-01 07:09","p":1017.98},
      {"s":"G3677 Analysis","g":3,"t":"2025-02-01 07:22","p":1018.03},
      {"s":"G3677 Analysis","g":3,"t":"2025-02-01 07:34","p":1018.11},
      {"s":"G3677 Analysis","g":3,"t":"2025-02-01 07:47","p":1018.15},
      {"s":"G3677 Analysis","g":3,"t":"2025-02-01 08:00","p":1018.28},
      {"s":"G3677 Analysis","g":3,"t":"2025-02-01 08:13","p":1018.38},
      {"s":"G3677 Analysis","g":3,"t":"2025-02-01 08:26","p":1018.51},
      {"s":"G3677 Analysis","g":3,"t":"2025-02-01 08:33","p":1018.58},
      {"s":"G3677 Analysis","g":3,"t":"2025-02-01 08:46","p":1018.61},
      {"s":"G3677 Analysis","g":3,"t":"2025-02-01 08:56","p":1018.68},
      {"s":"G3677 Analysis","g":3,"t":"2025-02-01 09:12","p":1018.75},
      {"s":"G3677 Analysis","g":3,"t":"2025-02-01 09:25","p":1018.81},
      {"s":"G3677 Analysis","g":3,"t":"2025-02-01 09:37","p":1018.86},
      {"s":"G3677 Analysis","g":3,"t":"2025-02-01 09:50","p":1018.91},
      {"s":"G3677 Analysis","g":3,"t":"2025-02-01 10:03","p":1018.99},
      {"s":"G3677 Analysis","g":3,"t":"2025-02-01 10:15","p":1019.06},
      {"s":"G3677 Analysis","g":3,"t":"2025-02-01 10:28","p":1019.15},
      {"s":"G3677 Analysis","g":3,"t":"2025-02-01 10:38","p":1019.23},
      {"s":"G3677 Analysis","g":3,"t":"2025-02-01 10:51","p":1019.28},
      {"s":"G3677 Analysis","g":3,"t":"2025-02-01 10:59","p":1019.38},
      {"s":"G3677 Analysis","g":3,"t":"2025-02-01 11:06","p":1019.53},
      {"s":"G3677 Analysis","g":3,"t":"2025-02-01 11:17","p":1019.72},
      {"s":"G3677 Analysis","g":3,"t":"2025-02-01 11:24","p":1019.91},
      {"s":"G3677 Analysis","g":3,"t":"2025-02-01 11:32","p":1020.05},
      {"s":"G3677 Analysis","g":3,"t":"2025-02-01 11:43","p":1020.13},
      {"s":"G3677 Analysis","g":3,"t":"2025-02-01 11:55","p":1020.15},
      {"s":"G3677 Analysis","g":3,"t":"2025-02-01 12:02","p":1020.25},
      {"s":"G3677 Analysis","g":3,"t":"2025-02-01 12:10","p":1020.35},
      {"s":"G3677 Analysis","g":3,"t":"2025-02-01 12:21","p":1020.41},
      {"s":"G3677 Analysis","g":3,"t":"2025-02-01 12:29","p":1020.51},
      {"s":"G3677 Analysis","g":3,"t":"2025-02-01 12:36","p":1020.61},
      {"s":"G3677 Analysis","g":3,"t":"2025-02-01 12:41","p":1020.56},
      {"s":"G3677 Analysis","g":3,"t":"2025-02-01 12:49","p":1020.65},
      {"s":"G3677 Analysis","g":3,"t":"2025-02-01 12:56","p":1020.78},
      {"s":"G3677 Analysis","g":3,"t":"2025-02-01 13:07","p":1020.91},
      {"s":"G3677 Analysis","g":3,"t":"2025-02-01 13:15","p":1021.05},
      {"s":"G3677 Analysis","g":3,"t":"2025-02-01 13:25","p":1021.18},
      {"s":"G3677 Analysis","g":3,"t":"2025-02-01 13:32","p":1021.30},
      {"s":"G3677 Analysis","g":3,"t":"2025-02-01 13:40","p":1021.26},
      {"s":"G3677 Analysis","g":3,"t":"2025-02-01 13:50","p":1021.25}
    ]
  },
  "encoding": {
    "x": {"field": "t", "type": "temporal", "scale": {"type": "utc", "nice": false, "domain": [1738195200000, 1738454400000]}},
    "y": {"field": "p", "type": "quantitative", "scale": {"domain": [1015, 1023], "nice": false, "zero": false}}
  },
  "layer": [
    {
      "transform": [{"filter": "datum.s === 'G3677'"}],
      "mark": {"type": "line", "strokeWidth": 1.4, "opacity": 0},
      "encoding": {
        "x": {"field": "t", "type": "temporal", "axis": {"orient": "bottom", "title": null, "labels": false, "values": [1738195200000, 1738202400000, 1738209600000, 1738216800000, 1738224000000, 1738231200000, 1738238400000, 1738245600000, 1738252800000, 1738260000000, 1738267200000, 1738274400000, 1738281600000, 1738288800000, 1738296000000, 1738303200000, 1738310400000, 1738317600000, 1738324800000, 1738332000000, 1738339200000, 1738346400000, 1738353600000, 1738360800000, 1738368000000, 1738375200000, 1738382400000, 1738389600000, 1738396800000, 1738404000000, 1738411200000, 1738418400000, 1738425600000, 1738432800000, 1738440000000, 1738447200000, 1738454400000], "tickSize": -3}},
        "y": {"field": "p", "type": "quantitative", "axis": {"orient": "left", "title": null, "labels": false, "values": [1015, 1016, 1017, 1018, 1019, 1020, 1021, 1022, 1023], "tickSize": -5}}
      }
    },
    {
      "transform": [{"filter": "datum.s === 'G3677'"}],
      "mark": {"type": "line", "strokeWidth": 1.4, "opacity": 0},
      "encoding": {
        "x": {"field": "t", "type": "temporal", "axis": {"orient": "top", "title": null, "labels": false, "values": [1738195200000, 1738202400000, 1738209600000, 1738216800000, 1738224000000, 1738231200000, 1738238400000, 1738245600000, 1738252800000, 1738260000000, 1738267200000, 1738274400000, 1738281600000, 1738288800000, 1738296000000, 1738303200000, 1738310400000, 1738317600000, 1738324800000, 1738332000000, 1738339200000, 1738346400000, 1738353600000, 1738360800000, 1738368000000, 1738375200000, 1738382400000, 1738389600000, 1738396800000, 1738404000000, 1738411200000, 1738418400000, 1738425600000, 1738432800000, 1738440000000, 1738447200000, 1738454400000], "tickSize": -3}},
        "y": {"field": "p", "type": "quantitative", "axis": {"orient": "right", "title": null, "labels": false, "values": [1015, 1016, 1017, 1018, 1019, 1020, 1021, 1022, 1023], "tickSize": -5}}
      }
    },
    {
      "transform": [{"filter": "datum.s === 'G3677'"}],
      "mark": {"type": "line", "strokeWidth": 1.4, "opacity": 0},
      "encoding": {
        "x": {"field": "t", "type": "temporal", "axis": {"orient": "top", "title": null, "labels": false, "values": [1738195200000, 1738216800000, 1738238400000, 1738260000000, 1738281600000, 1738303200000, 1738324800000, 1738346400000, 1738368000000, 1738389600000, 1738411200000, 1738432800000, 1738454400000], "tickSize": -6}},
        "y": {"field": "p", "type": "quantitative", "axis": null}
      }
    },
    {
      "transform": [{"filter": "datum.s === 'G3677'"}],
      "mark": {"type": "line", "strokeWidth": 1.4},
      "encoding": {
        "x": {"field": "t", "type": "temporal", "axis": {"orient": "bottom", "title": null, "values": [1738195200000, 1738216800000, 1738238400000, 1738260000000, 1738281600000, 1738303200000, 1738324800000, 1738346400000, 1738368000000, 1738389600000, 1738411200000, 1738432800000, 1738454400000], "tickSize": -6, "labelExpr": "[utcFormat(datum.value, '%m/%d'), utcFormat(datum.value, '%H:%M')]", "labelFlush": false, "labelOverlap": false, "labelBound": false, "labelPadding": 15, "labelLineHeight": 14, "labelBaseline": "top"}},
        "y": {"field": "p", "type": "quantitative", "axis": {"orient": "left", "title": "milliBars", "ticks": false, "format": "d", "values": [1015, 1016, 1017, 1018, 1019, 1020, 1021, 1022, 1023], "labelPadding": 8, "titlePadding": 10, "labelFlush": false, "labelOverlap": false}},
        "color": {"field": "s", "type": "nominal", "scale": {"domain": ["G3677 Analysis", "G3677"], "range": ["#ff0000", "#0080ff"]},
          "legend": {"orient": "none", "legendX": 532, "legendY": 6, "title": null, "symbolType": "M-4,0H4", "symbolSize": 56.25, "symbolStrokeWidth": 1.4, "symbolFillColor": "transparent", "labelAlign": "right", "labelOffset": -24.75, "labelFont": "DejaVu Sans Mono", "labelFontSize": 10, "labelColor": "black", "rowPadding": 3, "padding": 0, "labelLimit": 300}}
      }
    },
    {
      "transform": [{"filter": "datum.s === 'G3677 Analysis'"}],
      "mark": {"type": "line", "strokeWidth": 1.4},
      "encoding": {
        "x": {"field": "t", "type": "temporal", "axis": null},
        "y": {"field": "p", "type": "quantitative", "axis": null},
        "color": {"field": "s", "type": "nominal"},
        "detail": {"field": "g", "type": "nominal"}
      }
    }
  ],
  "resolve": {"axis": {"x": "independent", "y": "independent"}}
}
